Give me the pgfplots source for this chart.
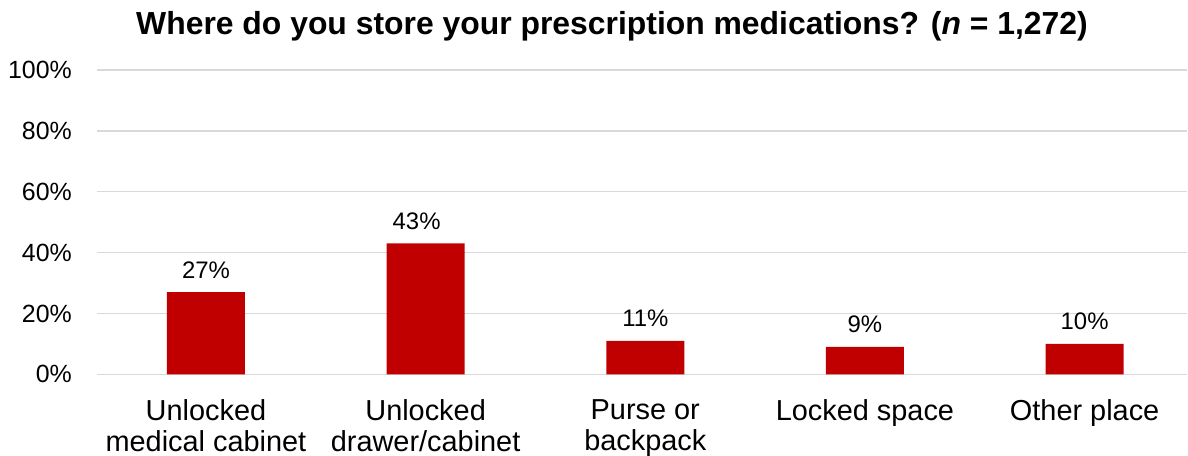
\documentclass[border=0pt]{standalone}
\usepackage{fontspec}
\setmainfont{Liberation Sans}
\usepackage{pgfplots}
\pgfplotsset{compat=1.18}
\definecolor{barred}{HTML}{C00000}
\definecolor{gridgray}{HTML}{D9D9D9}
\begin{document}
\begin{tikzpicture}
\path[use as bounding box] (0bp,0bp) rectangle (1188bp,456bp);
\node[anchor=base, font=\bfseries\fontsize{32}{38}\selectfont] at (612bp,421bp)
  {Where do you store your prescription medications? (\textit{n} = 1,272)};
\begin{axis}[
    at={(97bp,81.7bp)}, anchor=south west,
    scale only axis,
    width=1090bp, height=304.3bp,
    ybar, bar width=78bp,
    xmin=-0.496, xmax=4.466,
    ymin=0, ymax=100,
    xtick=data,
    xticklabels={{Unlocked\\medical cabinet}, {Unlocked\\drawer/cabinet}, {Purse or\\backpack}, {Locked space}, {Other place}},
    ytick={0,20,40,60,80,100},
    yticklabel={\pgfmathprintnumber{\tick}\%},
    /pgf/number format/assume math mode=true,
    major tick length=0pt,
    tick style={draw=none},
    axis line style={draw=none},
    ymajorgrids,
    grid style={gridgray, line width=1.3bp},
    clip=false,
    yticklabel style={anchor=east, inner sep=0pt, xshift=-25bp, font=\fontsize{25}{30}\selectfont},
    xticklabel style={anchor=north, align=center, inner sep=0pt, yshift=-25bp, font=\fontsize{29}{31}\selectfont},
    visualization depends on={\coordindex \as \idx},
    nodes near coords={\pgfmathprintnumber{\pgfplotspointmeta}\%},
    every node near coord/.append style={anchor=base, inner sep=0pt, yshift=14bp,
      xshift={(\idx==1)*(-9bp)},
      font=\fontsize{24}{28}\selectfont, /pgf/number format/assume math mode=true},
]
\addplot[fill=barred, draw=none] coordinates {(0,27) (1,43) (2,11) (3,9) (4,10)};
\end{axis}
\end{tikzpicture}
\end{document}
